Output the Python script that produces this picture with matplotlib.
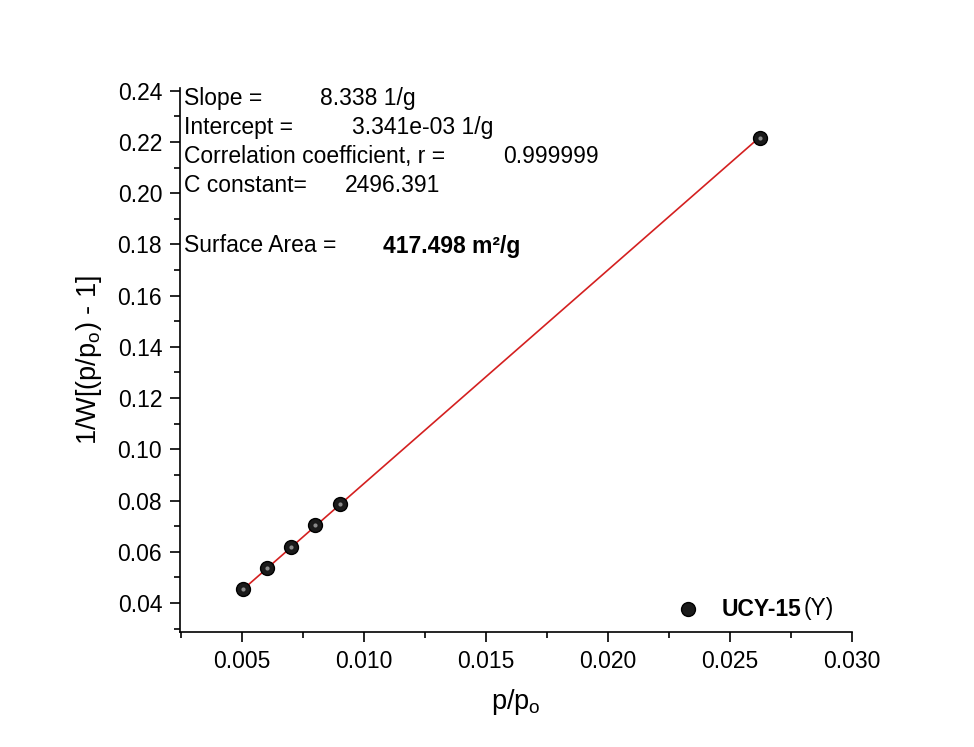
import numpy as np
import matplotlib.pyplot as plt
from matplotlib.ticker import MultipleLocator, FormatStrFormatter

# BET data
rel_pressure = [0.00505, 0.0060, 0.0070, 0.0080, 0.0090, 0.0262]
bet_y = [0.0455, 0.0535, 0.0620, 0.0705, 0.0785, 0.2215]
slope = 8.338
intercept = 3.341e-03

stats_labels = ["Slope =", "Intercept =", "Correlation coefficient, r =", "C constant="]
stats_values = ["8.338 1/g", "3.341e-03 1/g", "0.999999", "2496.391"]
area_label = "Surface Area ="
area_value = "417.498 m\u00b2/g"

plt.rcParams['font.family'] = ['Liberation Sans', 'DejaVu Sans']
plt.rcParams['mathtext.fontset'] = 'custom'
plt.rcParams['mathtext.rm'] = 'Liberation Sans'
plt.rcParams['mathtext.it'] = 'Liberation Sans'

fig = plt.figure(figsize=(9.74, 7.47), dpi=100)
ax = fig.add_axes([0.185, 0.154, 0.69, 0.728])

# fitted line
fx = np.array([rel_pressure[0], rel_pressure[-1]])
ax.plot(fx, slope * fx + intercept, color='#d42020', lw=1.2, zorder=2)
ax.plot(rel_pressure, bet_y, 'o', ms=10, mfc='#1a1a1a', mec='black', zorder=3)
ax.plot(rel_pressure, bet_y, 'o', ms=3, mfc='#8a8a8a', mec='none', zorder=4)

ax.set_xlim(0.00246, 0.030)
ax.set_ylim(0.0287, 0.241)
ax.xaxis.set_major_locator(MultipleLocator(0.005))
ax.xaxis.set_minor_locator(MultipleLocator(0.0025))
ax.yaxis.set_major_locator(MultipleLocator(0.02))
ax.yaxis.set_minor_locator(MultipleLocator(0.01))
ax.xaxis.set_major_formatter(FormatStrFormatter('%.3f'))
ax.yaxis.set_major_formatter(FormatStrFormatter('%.2f'))
ax.tick_params(which='major', direction='out', length=7, width=1.2, labelsize=16.5, pad=6)
ax.tick_params(which='minor', direction='out', length=4, width=1.2)
for s in ['top', 'right']:
    ax.spines[s].set_visible(False)
for s in ['left', 'bottom']:
    ax.spines[s].set_linewidth(1.2)

ax.set_xlabel('p/p$_\\mathregular{o}$', fontsize=19.5, labelpad=10)
ax.set_ylabel('1/W[(p/p$_\\mathregular{o}$) - 1]', fontsize=19.5, labelpad=10)

# stats text block
val_x = [320, 352, 503, 345]
for i, (lab, val) in enumerate(zip(stats_labels, stats_values)):
    y = 98 + i * 29.3
    fig.text(184 / 974, 1 - y / 747, lab, fontsize=16.5, va='center')
    fig.text(val_x[i] / 974, 1 - y / 747, val, fontsize=16.5, va='center')
fig.text(184 / 974, 1 - 246 / 747, area_label, fontsize=16.5, va='center')
fig.text(383 / 974, 1 - 246 / 747, area_value, fontsize=16.5, va='center', weight='bold')

# legend
fig.lines.append(plt.Line2D([688 / 974], [1 - 609 / 747], marker='o', ms=10, mfc='#1a1a1a',
                            mec='black', transform=fig.transFigure))
name = fig.text(722 / 974, 1 - 609 / 747, 'UCY-15', fontsize=16.5, weight='bold', va='center')
ax.annotate('(Y)', xy=(1.0, 0.5), xycoords=name, xytext=(1, 0), textcoords='offset points',
            fontsize=16.5, va='center', ha='left', annotation_clip=False)

fig.savefig('out.png', dpi=100)
